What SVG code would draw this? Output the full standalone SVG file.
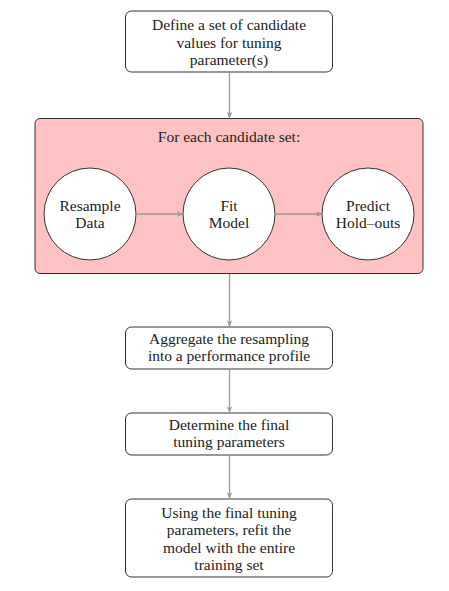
<svg xmlns="http://www.w3.org/2000/svg" width="449" height="591" viewBox="0 0 449 591">
<style>
.box{fill:#fff;stroke:#333;stroke-width:1}
.grp{fill:#ffc2c4;stroke:#333;stroke-width:1}
.t{font-family:"Liberation Serif","DejaVu Serif",serif;font-size:15.5px;fill:#222;text-anchor:middle}
.c{fill:none;stroke:#999;stroke-width:1.3}
</style>
<defs>
<marker id="ah" viewBox="0 0 10 10" refX="9" refY="5" markerWidth="7" markerHeight="7" markerUnits="userSpaceOnUse" orient="auto">
<path d="M0,1 L10,5 L0,9 L3,5 Z" fill="#999"/>
</marker>
</defs>
<g id="n1">
<rect class="box" x="125.5" y="11" width="207" height="61" rx="6"/>
<text class="t" x="229" y="30">Define a set of candidate</text>
<text class="t" x="229" y="48">values for tuning</text>
<text class="t" x="229" y="65">parameter(s)</text>
</g>
<g id="loop">
<rect class="grp" x="35" y="118.5" width="388" height="155" rx="5"/>
<text class="t" x="229" y="142">For each candidate set:</text>
</g>
<g id="n_resample">
<circle class="box" cx="90" cy="214" r="46"/>
<text class="t" x="90" y="211">Resample</text>
<text class="t" x="90" y="228">Data</text>
</g>
<g id="n_fit">
<circle class="box" cx="229" cy="214" r="46"/>
<text class="t" x="229" y="211">Fit</text>
<text class="t" x="229" y="228">Model</text>
</g>
<g id="n_predict">
<circle class="box" cx="368" cy="214" r="46"/>
<text class="t" x="368" y="211">Predict</text>
<text class="t" x="368" y="228">Hold–outs</text>
</g>
<g id="n2">
<rect class="box" x="125.5" y="327" width="207" height="42" rx="6"/>
<text class="t" x="229" y="344">Aggregate the resampling</text>
<text class="t" x="229" y="361">into a performance profile</text>
</g>
<g id="n3">
<rect class="box" x="125.5" y="413" width="207" height="42" rx="6"/>
<text class="t" x="229" y="430">Determine the final</text>
<text class="t" x="229" y="447">tuning parameters</text>
</g>
<g id="n4">
<rect class="box" x="125.5" y="499" width="207" height="78" rx="6"/>
<text class="t" x="229" y="518">Using the final tuning</text>
<text class="t" x="229" y="535">parameters, refit the</text>
<text class="t" x="229" y="553">model with the entire</text>
<text class="t" x="229" y="570">training set</text>
</g>
<g id="connectors">
<line class="c" x1="229.5" y1="72" x2="229.5" y2="118" marker-end="url(#ah)"/>
<line class="c" x1="136" y1="214" x2="183" y2="214" marker-end="url(#ah)"/>
<line class="c" x1="275" y1="214" x2="322" y2="214" marker-end="url(#ah)"/>
<line class="c" x1="229.5" y1="274" x2="229.5" y2="326.5" marker-end="url(#ah)"/>
<line class="c" x1="229.5" y1="369" x2="229.5" y2="412.5" marker-end="url(#ah)"/>
<line class="c" x1="229.5" y1="455" x2="229.5" y2="498.5" marker-end="url(#ah)"/>
</g>
</svg>
